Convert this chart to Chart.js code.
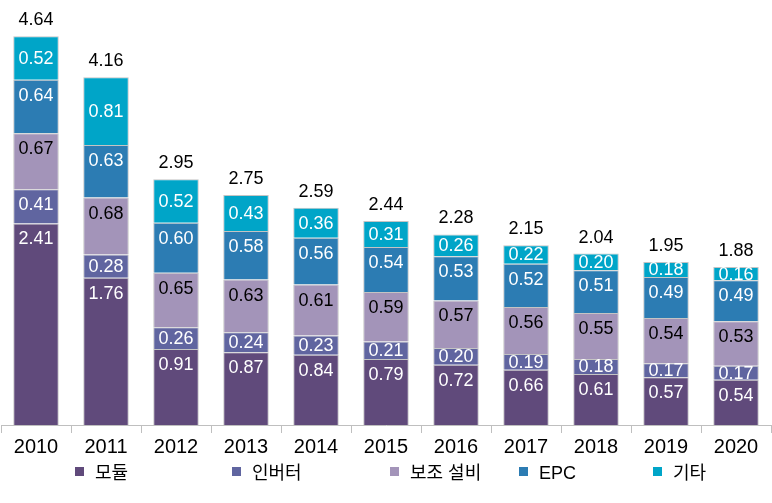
<!DOCTYPE html>
<html><head><meta charset="utf-8">
<script src="https://cdn.jsdelivr.net/npm/chart.js@4/dist/chart.umd.min.js"></script>
<style>html,body{margin:0;padding:0;background:#fff}#wrap{width:772px;height:503px}</style>
</head><body><div id="wrap"><canvas id="c" width="772" height="503"></canvas></div>
<script>
const years = ['2010','2011','2012','2013','2014','2015','2016','2017','2018','2019','2020'];
const seriesNames = ['모듈','인버터','보조 설비','EPC','기타'];
const module_ = [2.41,1.76,0.91,0.87,0.84,0.79,0.72,0.66,0.61,0.57,0.54];
const inverter = [0.41,0.28,0.26,0.24,0.23,0.21,0.20,0.19,0.18,0.17,0.17];
const bos = [0.67,0.68,0.65,0.63,0.61,0.59,0.57,0.56,0.55,0.54,0.53];
const epc = [0.64,0.63,0.60,0.58,0.56,0.54,0.53,0.52,0.51,0.49,0.49];
const other = [0.52,0.81,0.52,0.43,0.36,0.31,0.26,0.22,0.20,0.18,0.16];
const totals = [4.64,4.16,2.95,2.75,2.59,2.44,2.28,2.15,2.04,1.95,1.88];

const colors = ['#604a7b','#6065a0','#a394b9','#2c7cb3','#00a5c8'];
const labelColors = ['#fff','#fff','#000','#fff','#fff'];
const FONT = '"Liberation Sans", Arial, "Noto Sans CJK KR", sans-serif';
const seriesData = [module_, inverter, bos, epc, other];

const labelPlugin = {
  id: 'labels',
  afterDatasetsDraw(chart) {
    const ctx = chart.ctx;
    const n = chart.data.datasets.length;
    ctx.save();
    ctx.textAlign = 'center';
    ctx.textBaseline = 'middle';
    ctx.font = '18px ' + FONT;
    chart.data.datasets.forEach((ds, i) => {
      const meta = chart.getDatasetMeta(i);
      meta.data.forEach((bar, j) => {
        const top = Math.min(bar.y, bar.base);
        const center = (bar.y + bar.base) / 2;
        const yc = (i === n - 1) ? center : Math.min(top + 15, center);
        ctx.fillStyle = labelColors[i];
        ctx.fillText(ds.data[j].toFixed(2), bar.x, yc + 1);
      });
    });
    const topMeta = chart.getDatasetMeta(n - 1);
    ctx.fillStyle = '#000';
    ctx.textBaseline = 'middle';
    topMeta.data.forEach((bar, j) => {
      ctx.fillText(totals[j].toFixed(2), bar.x, bar.y - 16);
    });
    ctx.restore();
  }
};

const legendX = [75, 232, 390, 519, 653];
const legendPlugin = {
  id: 'customLegend',
  afterDraw(chart) {
    const ctx = chart.ctx;
    ctx.save();
    ctx.font = '18px ' + FONT;
    ctx.textBaseline = 'middle';
    ctx.textAlign = 'left';
    chart.data.datasets.forEach((ds, i) => {
      const x = legendX[i];
      const y = 473;
      ctx.fillStyle = ds.backgroundColor;
      ctx.fillRect(x, y - 6, 9, 9);
      ctx.fillStyle = '#000';
      ctx.fillText(ds.label, x + 20, y + 1);
    });
    ctx.restore();
  }
};

new Chart(document.getElementById('c'), {
  type: 'bar',
  data: {
    labels: years,
    datasets: seriesData.map((d, i) => ({
      label: seriesNames[i],
      data: d,
      backgroundColor: colors[i],
      borderColor: '#c4c4c4',
      borderWidth: 1,
      barPercentage: 0.65,
      categoryPercentage: 1.0
    }))
  },
  options: {
    responsive: false,
    animation: false,
    layout: { padding: { top: 7, left: 1, right: 1, bottom: 42 } },
    plugins: { legend: { display: false }, tooltip: { enabled: false } },
    scales: {
      x: {
        stacked: true,
        border: { display: true, color: '#bfbfbf', width: 1 },
        grid: { offset: true, drawOnChartArea: false, drawTicks: true, tickLength: 8, color: '#bfbfbf' },
        ticks: { color: '#000', font: { family: FONT, size: 20 }, padding: 2, maxRotation: 0 }
      },
      y: { stacked: true, display: false, min: 0, max: 5 }
    }
  },
  plugins: [labelPlugin, legendPlugin]
});
</script></body></html>
